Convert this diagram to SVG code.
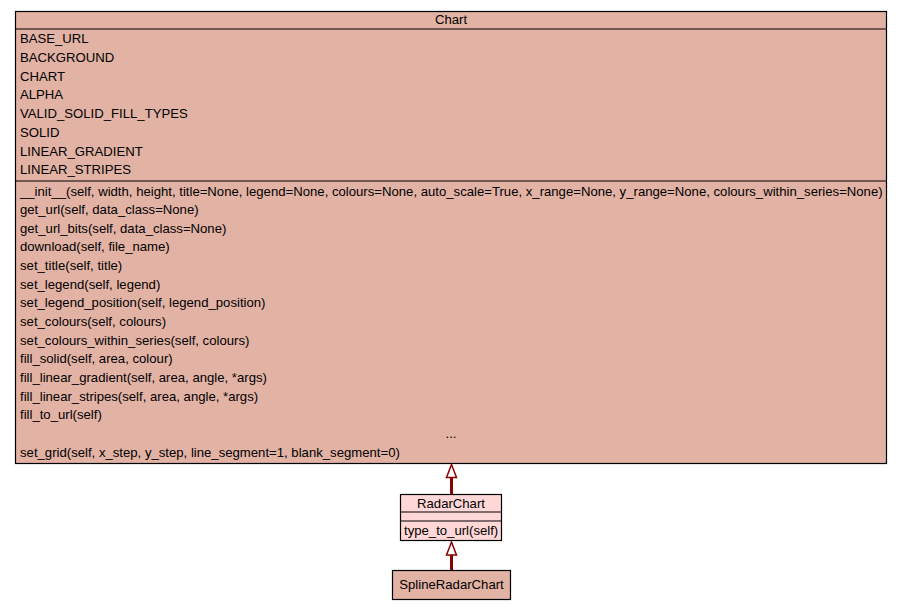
<svg xmlns="http://www.w3.org/2000/svg" width="901" height="611" viewBox="0 0 901 611">
<style>
  text { font-family: "Liberation Sans", Arial, sans-serif; font-size: 13.15px; fill: #000; }
  .box { stroke: #000; stroke-width: 1.2; }
  .chart { fill: #e2b2a5; }
  .radar { fill: #ffd7d7; }
  .sep { stroke: #000; stroke-width: 1.2; }
  .mid { text-anchor: middle; }
  .edge { stroke: #8b0000; stroke-width: 3; fill: none; }
  .head { stroke: #8b0000; stroke-width: 1.5; fill: #fff; }
</style>
<rect width="901" height="611" fill="#fff"/>
<g id="Chart">
  <rect class="box chart" x="15.5" y="11.5" width="871" height="452"/>
  <line class="sep" x1="15.5" y1="29" x2="886.5" y2="29"/>
  <line class="sep" x1="15.5" y1="181" x2="886.5" y2="181"/>
  <text class="mid" x="451" y="23.5">Chart</text>
  <text x="20" y="43">BASE_URL</text>
  <text x="20" y="61.75">BACKGROUND</text>
  <text x="20" y="80.5">CHART</text>
  <text x="20" y="99.25">ALPHA</text>
  <text x="20" y="118">VALID_SOLID_FILL_TYPES</text>
  <text x="20" y="136.75">SOLID</text>
  <text x="20" y="155.5">LINEAR_GRADIENT</text>
  <text x="20" y="174.25">LINEAR_STRIPES</text>
  <text x="20" y="195.5">__init__(self, width, height, title=None, legend=None, colours=None, auto_scale=True, x_range=None, y_range=None, colours_within_series=None)</text>
  <text x="20" y="214.1">get_url(self, data_class=None)</text>
  <text x="20" y="232.8">get_url_bits(self, data_class=None)</text>
  <text x="20" y="251.4">download(self, file_name)</text>
  <text x="20" y="270.1">set_title(self, title)</text>
  <text x="20" y="288.7">set_legend(self, legend)</text>
  <text x="20" y="307.3">set_legend_position(self, legend_position)</text>
  <text x="20" y="326">set_colours(self, colours)</text>
  <text x="20" y="344.6">set_colours_within_series(self, colours)</text>
  <text x="20" y="363.3">fill_solid(self, area, colour)</text>
  <text x="20" y="381.9">fill_linear_gradient(self, area, angle, *args)</text>
  <text x="20" y="400.5">fill_linear_stripes(self, area, angle, *args)</text>
  <text x="20" y="419.2">fill_to_url(self)</text>
  <text class="mid" x="451" y="437.8">...</text>
  <text x="20" y="456.5">set_grid(self, x_step, y_step, line_segment=1, blank_segment=0)</text>
</g>
<g id="RadarChart">
  <rect class="box radar" x="400.5" y="494.5" width="101" height="46"/>
  <line class="sep" x1="400.5" y1="512" x2="501.5" y2="512"/>
  <line class="sep" x1="400.5" y1="521" x2="501.5" y2="521"/>
  <text class="mid" x="451" y="507.5">RadarChart</text>
  <text x="404" y="534.5">type_to_url(self)</text>
</g>
<g id="SplineRadarChart">
  <rect class="box chart" x="392.5" y="570.5" width="118" height="29"/>
  <text class="mid" x="451.5" y="589">SplineRadarChart</text>
</g>
<g id="connectors">
  <line class="edge" x1="451.5" y1="477" x2="451.5" y2="494"/>
  <polygon class="head" points="451.5,464.5 456.5,477.5 446.5,477.5"/>
  <line class="edge" x1="451.5" y1="555" x2="451.5" y2="570"/>
  <polygon class="head" points="451.5,542 456.5,555 446.5,555"/>
</g>
</svg>
